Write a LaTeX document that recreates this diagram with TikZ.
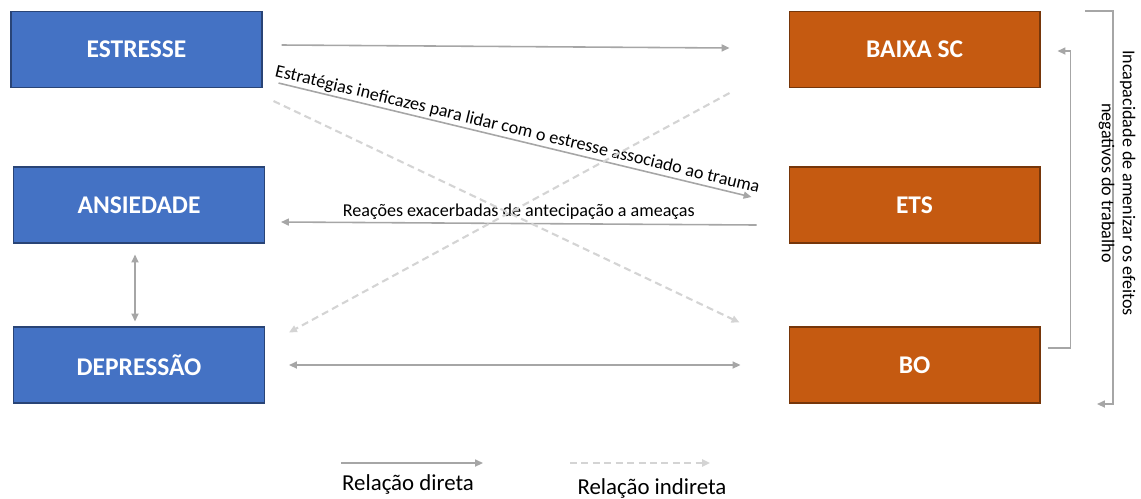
\documentclass[tikz,border=0pt]{standalone}
\usepackage{fontspec}
\setmainfont{Carlito}
\usepackage{tikz}
\usetikzlibrary{arrows.meta}
\definecolor{boxblue}{HTML}{4472C4}
\definecolor{boxorange}{HTML}{C55A11}
\definecolor{linegray}{HTML}{A6A6A6}
\definecolor{dashgray}{HTML}{D4D4D4}
\tikzset{
  >={Triangle[length=4.5pt,width=4pt]},
  bluebox/.style={draw=boxblue!60!black, line width=0.6pt, fill=boxblue, text=white,
    font=\fontsize{14.5}{16}\selectfont\bfseries, minimum width=5.02cm, minimum height=1.52cm},
  orangebox/.style={bluebox, draw=boxorange!60!black, fill=boxorange},
  direta/.style={draw=linegray, line width=0.9pt},
  indireta/.style={draw=dashgray, line width=1.2pt, dash pattern=on 4pt off 2.5pt},
  rotulo/.style={font=\fontsize{10.3}{12}\selectfont, text=black},
  legenda/.style={font=\fontsize{13}{15}\selectfont, text=black}
}
\begin{document}
\begin{tikzpicture}[x=0.02cm, y=-0.02cm]
          \useasboundingbox (0,0) rectangle (1141,498);
          % caixas
          \node[bluebox] (estresse) at (136.5,49.5) {ESTRESSE};
          \node[bluebox] (ansiedade) at (139,205) {ANSIEDADE};
          \node[bluebox] (depressao) at (139,365) {DEPRESSÃO};
          \node[orangebox] (baixasc) at (914.5,49.5) {BAIXA SC};
          \node[orangebox] (ets) at (914.5,205) {ETS};
          \node[orangebox] (bo) at (914.5,365) {BO};
          % relacoes diretas
          \draw[direta, ->] ([shift={(19,-4.5)}]estresse.east) -- ([shift={(-59,-1.5)}]baixasc.west);
          \draw[direta, ->] ([shift={(16,-5)}]estresse.south east) -- ([shift={(-37,-8)}]ets.west)
            node[midway, above, sloped, rotulo, inner sep=1pt] {Estratégias ineficazes para lidar com o estresse associado ao trauma};
          \draw[direta, ->] ([shift={(-32,20)}]ets.west) -- ([shift={(16,17)}]ansiedade.east)
            node[midway, above, rotulo, inner sep=2pt] {Reações exacerbadas de antecipação a ameaças};
          \draw[direta, <->] ([shift={(-4,11)}]ansiedade.south) -- ([shift={(-4,-5)}]depressao.north);
          \draw[direta, <->] ([shift={(24,0)}]depressao.east) -- ([shift={(-48,0)}]bo.west);
          % relacoes indiretas
          \draw[indireta, ->] ([shift={(11,13)}]estresse.south east) -- ([shift={(-49,-4)}]bo.north west);
          \draw[indireta, ->] ([shift={(-59,5)}]baixasc.south west) -- ([shift={(24,6)}]depressao.north east);
          % colchetes a direita
          \draw[direta, ->] ([shift={(7,-17)}]bo.east) -- ++(23,0) |- ([shift={(17,1.5)}]baixasc.east);
          \coordinate (brtop) at (1085,11);
          \coordinate (brbot) at (1097,404);
          \draw[direta, ->] (brtop) -- ++(28,0) |- (brbot);
          \node[rotulo, rotate=-90, align=center] (incap) at (1117,183)
            {Incapacidade de amenizar os efeitos\\negativos do trabalho};
          % legenda
          \coordinate (ldireta) at (341,463);
          \coordinate (lindireta) at (570,463);
          \draw[direta, ->] (ldireta) -- ++(142,0);
          \draw[indireta, ->] (lindireta) -- ++(140,0);
          \node[legenda] (tdireta) at (408,484) {Relação direta};
          \node[legenda] (tindireta) at (652,488) {Relação indireta};
        \end{tikzpicture}
\end{document}
